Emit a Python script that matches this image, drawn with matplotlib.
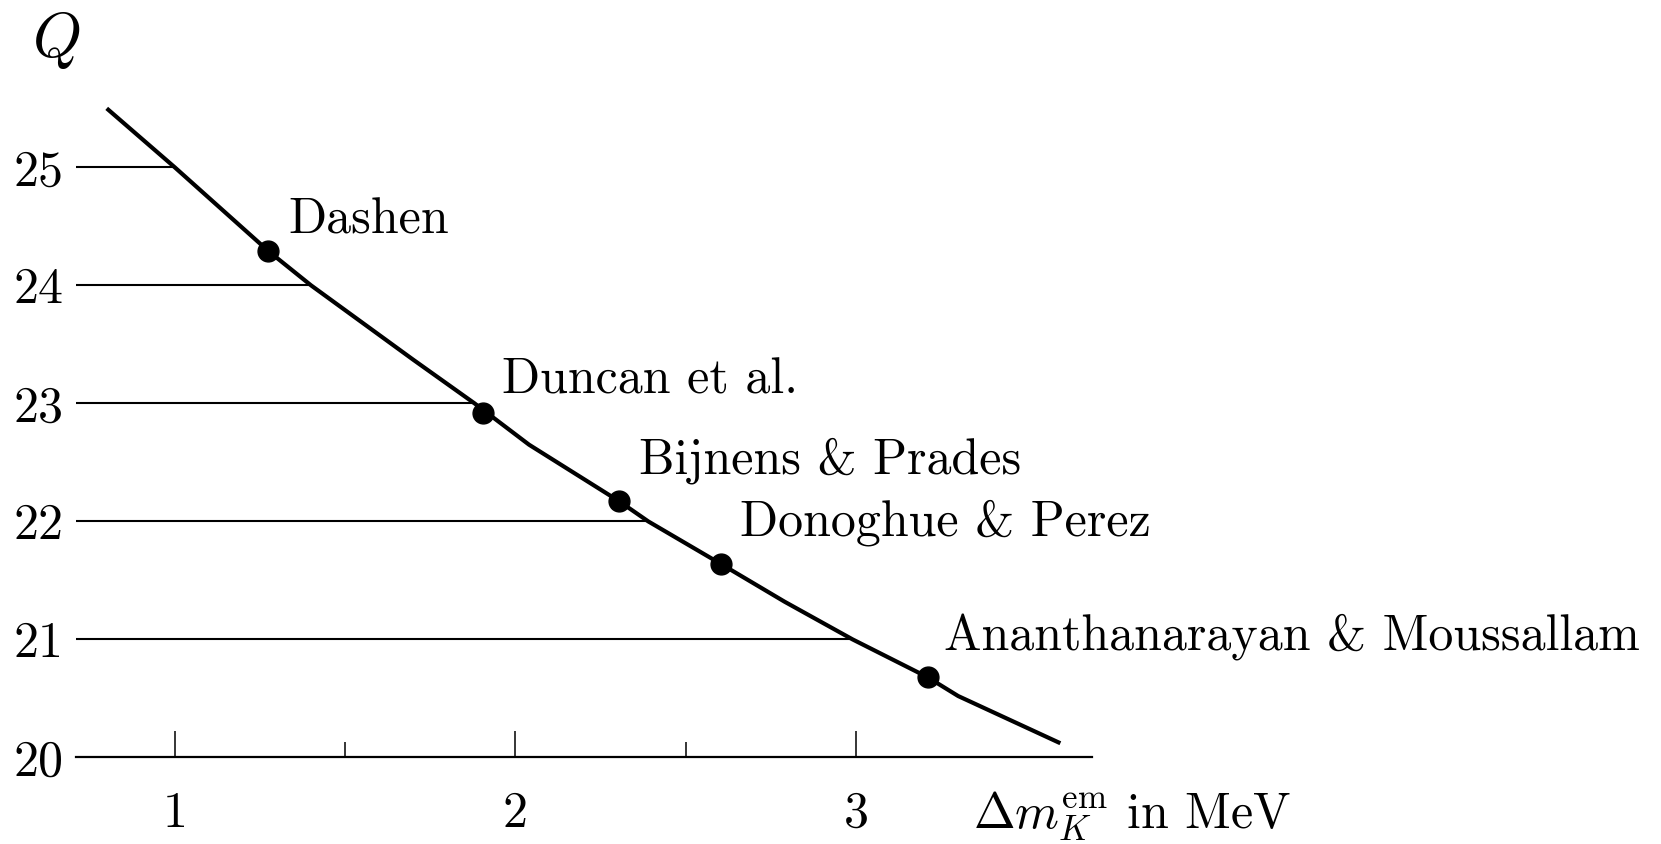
import numpy as np
import matplotlib
matplotlib.use("Agg")
import matplotlib.pyplot as plt

# Q as a function of the electromagnetic kaon mass shift
curve_x = [0.80, 1.00, 1.275, 1.40, 1.70, 1.88, 2.04, 2.305, 2.39, 2.603, 2.79, 2.99, 3.21, 3.30, 3.60]
curve_y = [25.50, 25.00, 24.29, 24.00, 23.37, 23.00, 22.65, 22.17, 22.00, 21.64, 21.32, 21.00, 20.68, 20.52, 20.12]

# estimates from the literature
names = ["Dashen", "Duncan et al.", "Bijnens & Prades", "Donoghue & Perez",
         "Ananthanarayan & Moussallam"]
point_x = [1.275, 1.904, 2.305, 2.603, 3.21]
point_y = [24.29, 22.92, 22.17, 21.64, 20.68]

q_levels = [20, 21, 22, 23, 24, 25]
x_major = [1, 2, 3]
x_minor = [1.5, 2.5]
x_start, x_end = 0.711, 3.694

# label offsets from each dot, in points
label_dx = [14, 14, 14, 14, 12]
label_dy = [13, 14, 20, 20.5, 19]

plt.rcParams['font.family'] = 'serif'
plt.rcParams['font.serif'] = ['cmr10']
plt.rcParams['mathtext.fontset'] = 'cm'
plt.rcParams['axes.unicode_minus'] = False

fig = plt.figure(figsize=(16.61, 8.44), dpi=100)
ax = fig.add_axes([0.02324, 0.0327, 0.9022, 0.9088])
ax.set_xlim(0.6, 5.0)
ax.set_ylim(19.5, 26.0)

# horizontal guide lines run from the left edge to the curve
rx = np.array(curve_y[::-1])
ry = np.array(curve_x[::-1])
for q in q_levels[1:]:
    ax.hlines(q, x_start, np.interp(q, rx, ry), color='black', lw=1.5)

ax.plot(curve_x, curve_y, color='black', lw=3.0, solid_capstyle='butt')
ax.plot(point_x, point_y, 'o', color='black', ms=15)

for name, px, py, dx, dy in zip(names, point_x, point_y, label_dx, label_dy):
    ax.annotate(name, (px, py), xytext=(dx, dy), textcoords='offset points',
                fontsize=36, ha='left', va='baseline', annotation_clip=False)

# axes: bottom spine at Q = 20, ticks pointing up
for s in ['top', 'right', 'left']:
    ax.spines[s].set_visible(False)
ax.spines['bottom'].set_position(('data', 20))
ax.spines['bottom'].set_bounds(x_start, x_end)
ax.spines['bottom'].set_linewidth(1.6)
ax.set_xticks(x_major)
ax.set_xticks(x_minor, minor=True)
ax.set_xticklabels([str(v) for v in x_major])
ax.tick_params(axis='x', which='major', direction='in', length=18.5, width=1.1,
               labelsize=36, pad=24)
ax.tick_params(axis='x', which='minor', direction='in', length=10.5, width=1.1)

ax.spines['left'].set_position(('data', x_start))
ax.set_yticks(q_levels)
ax.set_yticklabels([str(v) for v in q_levels])
ax.tick_params(axis='y', length=0, labelsize=36, pad=9)

fig.text(0.0337, 0.952, r'$Q$', fontsize=45, ha='center', va='center')
fig.text(0.5858, 0.019, r'$\Delta m_K^{\mathrm{em}}$ in MeV', fontsize=36,
         ha='left', va='baseline')

fig.savefig('out.png', dpi=100)
